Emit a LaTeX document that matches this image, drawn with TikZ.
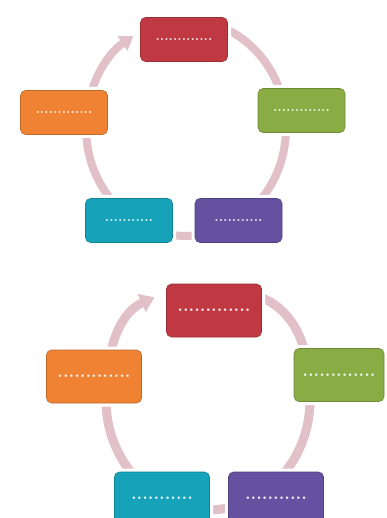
\documentclass[tikz,border=0pt]{standalone}
\usetikzlibrary{arrows.meta}

\definecolor{redbox}{RGB}{192,57,66}
\definecolor{greenbox}{RGB}{138,172,68}
\definecolor{orangebox}{RGB}{240,130,52}
\definecolor{cyanbox}{RGB}{22,162,184}
\definecolor{purplebox}{RGB}{100,82,160}
\definecolor{ringpink}{RGB}{226,192,202}

\begin{document}
\begin{tikzpicture}[
    x=1pt, y=-1pt,
    box/.style={rectangle, rounded corners=5pt, fill=#1, draw=#1!80!black, line width=0.6pt,
        text=white!88!#1, inner sep=0pt,
        preaction={draw=white, fill=white, line width=7pt}},
    smallbox/.style={box=#1, minimum width=87pt, minimum height=44pt, font=\fontsize{14}{14}\selectfont\bfseries},
    bigbox/.style={box=#1, minimum width=95pt, minimum height=53pt, font=\fontsize{18}{18}\selectfont\bfseries},
    cyclering/.style={draw=ringpink, line width=8pt, -{Triangle[width=17pt, length=13pt]}},
    bigring/.style={draw=ringpink, line width=9pt, -{Triangle[width=19pt, length=14pt]}}
]

% Page
\fill[white, use as bounding box] (0,0) rectangle (386,518);
\clip (0,0) rectangle (386,518);

% Top cycle: ring
\draw[cyclering] (186,20) .. controls (241.2,20) and (286,68.4) .. (286,128)
    .. controls (286,187.6) and (241.2,236) .. (186,236)
    .. controls (130.8,236) and (86,187.6) .. (86,128)
    .. controls (86,89.3) and (104.9,55.3) .. (133.3,36.2);

% Top cycle: boxes
\node[smallbox=redbox] (red1) at (184,39.5) {.............};
\node[smallbox=greenbox] (green1) at (301.5,110.5) {.............};
\node[smallbox=purplebox] (purple1) at (238.5,220.5) {...........};
\node[smallbox=cyanbox] (cyan1) at (129,220.5) {...........};
\node[smallbox=orangebox] (orange1) at (64,112.5) {.............};

% Bottom cycle: ring
\draw[bigring] (208,288) .. controls (279.4,288) and (310,321.6) .. (310,400)
    .. controls (310,460.8) and (264.3,510) .. (208,510)
    .. controls (151.7,510) and (106,460.8) .. (106,400)
    .. controls (106,345.1) and (121,312.2) .. (154.5,297.4);

% Bottom cycle: boxes
\node[bigbox=redbox] (red2) at (214,310.5) {.............};
\node[bigbox=greenbox, minimum width=90pt] (green2) at (339,375) {.............};
\node[bigbox=purplebox] (purple2) at (276,498.5) {...........};
\node[bigbox=cyanbox] (cyan2) at (162,498.5) {...........};
\node[bigbox=orangebox] (orange2) at (94,376.5) {.............};

\end{tikzpicture}
\end{document}
